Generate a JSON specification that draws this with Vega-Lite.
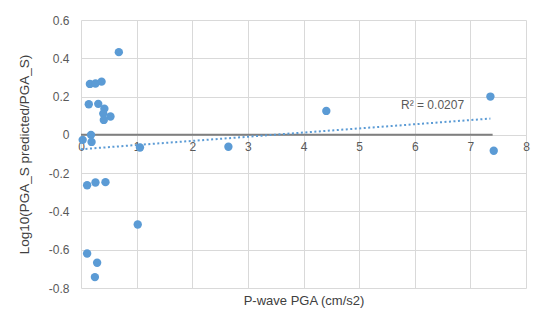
{
  "$schema": "https://vega.github.io/schema/vega-lite/v6.json",
  "width": 445,
  "height": 268,
  "autosize": {"type": "none"},
  "padding": {"left": 81, "top": 20, "right": 24, "bottom": 44},
  "background": "white",
  "config": {
    "view": {"stroke": null},
    "font": "Liberation Sans",
    "axis": {"gridColor": "#d9d9d9", "gridWidth": 1, "domain": false, "ticks": false, "labelColor": "#595959", "labelFontSize": 12, "titleColor": "#404040", "titleFontSize": 13, "titleFontWeight": "normal"}
  },
  "datasets": {
    "pts": [
      {"x": 0.68, "y": 0.432},
      {"x": 0.16, "y": 0.266},
      {"x": 0.26, "y": 0.268},
      {"x": 0.37, "y": 0.278},
      {"x": 0.14, "y": 0.16},
      {"x": 0.31, "y": 0.162},
      {"x": 0.42, "y": 0.137},
      {"x": 0.40, "y": 0.111},
      {"x": 0.53, "y": 0.096},
      {"x": 0.41, "y": 0.078},
      {"x": 0.18, "y": 0.0},
      {"x": 0.03, "y": -0.026},
      {"x": 0.19, "y": -0.037},
      {"x": 1.06, "y": -0.066},
      {"x": 0.11, "y": -0.263},
      {"x": 0.26, "y": -0.249},
      {"x": 0.44, "y": -0.247},
      {"x": 1.02, "y": -0.468},
      {"x": 0.11, "y": -0.62},
      {"x": 0.29, "y": -0.668},
      {"x": 0.25, "y": -0.743},
      {"x": 2.65, "y": -0.062},
      {"x": 4.41, "y": 0.125},
      {"x": 7.36, "y": 0.2},
      {"x": 7.42, "y": -0.083}
    ],
    "zero": [{"x": 0, "x2": 7.4, "y": 0}],
    "trend": [{"x": 0, "y": -0.075}, {"x": 7.36, "y": 0.085}],
    "lbl": [{"x": 6.32, "y": 0.157, "t": "R² = 0.0207"}]
  },
  "encoding": {
    "x": {"field": "x", "type": "quantitative", "scale": {"domain": [0, 8], "nice": false},
      "axis": {"orient": "bottom", "offset": -153, "values": [0,1,2,3,4,5,6,7,8], "format": "d", "labelOverlap": false, "labelFlush": false, "labelPadding": 6, "title": "P-wave PGA (cm/s2)", "titleY": 165, "titleBaseline": "middle"}},
    "y": {"field": "y", "type": "quantitative", "scale": {"domain": [-0.8, 0.6], "nice": false},
      "axis": {"values": [-0.8, -0.6, -0.4, -0.2, 0, 0.2, 0.4, 0.6], "tickCount": 8, "labelOverlap": false, "labelFlush": false, "labelExpr": "replace(format(datum.value, '.1~f'), '−', '-')", "labelPadding": 12, "title": "Log10(PGA_S predicted/PGA_S)", "titleX": -50, "titleFontSize": 13.5}}
  },
  "layer": [
    {
      "data": {"name": "zero"},
      "mark": {"type": "rule", "color": "#7f7f7f", "strokeWidth": 2},
      "encoding": {"x2": {"field": "x2"}}
    },
    {
      "data": {"name": "trend"},
      "mark": {"type": "line", "color": "#5b9bd5", "strokeWidth": 2, "strokeDash": [2, 2.5]},
      "encoding": {}
    },
    {
      "data": {"name": "pts"},
      "mark": {"type": "circle", "color": "#5b9bd5", "opacity": 1, "size": 70},
      "encoding": {}
    },
    {
      "data": {"name": "lbl"},
      "mark": {"type": "text", "color": "#595959", "fontSize": 12},
      "encoding": {"text": {"field": "t"}}
    }
  ]
}
